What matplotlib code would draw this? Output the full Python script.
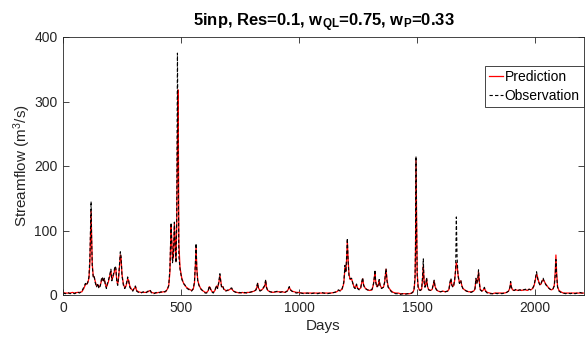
import matplotlib
matplotlib.use("Agg")
import matplotlib.pyplot as plt

plt.rcParams['font.family'] = ['Liberation Sans', 'DejaVu Sans']
plt.rcParams['mathtext.fontset'] = 'custom'
plt.rcParams['mathtext.rm'] = 'Liberation Sans'
plt.rcParams['mathtext.it'] = 'Liberation Sans'
plt.rcParams['mathtext.bf'] = 'Liberation Sans:bold'

days = [
    0, 10, 20, 30, 40, 50, 60, 70, 80, 88,
    95, 100, 105, 110, 114, 117, 119, 121, 124, 128,
    132, 136, 142, 148, 152, 158, 163, 167, 171, 175,
    180, 184, 188, 192, 196, 200, 203, 207, 212, 217,
    220, 224, 228, 232, 236, 240, 243, 246, 250, 256,
    262, 266, 270, 274, 278, 283, 290, 296, 302, 307,
    312, 320, 330, 340, 350, 360, 369, 375, 385, 395,
    405, 415, 425, 435, 442, 448, 453, 458, 461, 464,
    468, 472, 476, 479, 482, 485, 488, 491, 496, 503,
    510, 518, 526, 535, 545, 552, 557, 561, 564, 567,
    571, 576, 582, 588, 595, 603, 609, 616, 620, 624,
    630, 637, 644, 648, 651, 655, 660, 665, 668, 672,
    677, 682, 690, 700, 708, 715, 720, 728, 738, 748,
    760, 770, 780, 790, 800, 810, 818, 822, 825, 828,
    835, 843, 850, 855, 859, 862, 868, 878, 890, 900,
    910, 920, 930, 940, 950, 955, 959, 963, 970, 980,
    990, 1000, 1010, 1020, 1035, 1050, 1065, 1080, 1095, 1105,
    1120, 1135, 1150, 1160, 1167, 1175, 1183, 1190, 1195, 1199,
    1202, 1205, 1208, 1212, 1217, 1223, 1228, 1233, 1238, 1244,
    1248, 1255, 1262, 1266, 1270, 1274, 1280, 1290, 1300, 1310,
    1316, 1320, 1322, 1325, 1330, 1335, 1340, 1344, 1350, 1358,
    1363, 1366, 1369, 1373, 1378, 1385, 1392, 1400, 1410, 1420,
    1430, 1440, 1450, 1460, 1470, 1478, 1484, 1488, 1492, 1494,
    1496, 1498, 1501, 1505, 1510, 1515, 1520, 1524, 1527, 1530,
    1534, 1538, 1541, 1545, 1550, 1558, 1565, 1570, 1573, 1577,
    1583, 1590, 1600, 1610, 1620, 1630, 1636, 1640, 1644, 1648,
    1652, 1656, 1660, 1664, 1667, 1670, 1674, 1680, 1686, 1690,
    1695, 1702, 1710, 1720, 1730, 1740, 1746, 1750, 1754, 1758,
    1761, 1764, 1768, 1775, 1782, 1786, 1790, 1798, 1810, 1820,
    1830, 1840, 1850, 1860, 1870, 1880, 1888, 1894, 1897, 1900,
    1905, 1912, 1920, 1928, 1936, 1944, 1952, 1960, 1968, 1975,
    1983, 1990, 1996, 2000, 2004, 2007, 2010, 2014, 2018, 2022,
    2026, 2030, 2035, 2040, 2046, 2052, 2058, 2064, 2070, 2076,
    2082, 2086, 2089, 2092, 2096, 2102, 2110, 2120, 2130, 2140,
    2150, 2160, 2170, 2180, 2190, 2200, 2207,
]

observation = [
    3, 2, 4, 2, 3, 2, 5, 3, 6, 12,
    18, 15, 20, 28, 60, 110, 145, 90, 45, 28,
    30, 20, 12, 18, 10, 14, 25, 28, 20, 26,
    15, 10, 18, 22, 28, 35, 40, 22, 30, 38,
    45, 42, 20, 15, 30, 50, 67, 60, 30, 15,
    10, 14, 20, 28, 22, 12, 8, 6, 12, 14,
    6, 4, 3, 5, 3, 6, 8, 3, 2, 4,
    3, 5, 4, 6, 8, 15, 40, 112, 80, 50,
    60, 113, 70, 50, 120, 375, 200, 60, 40, 25,
    18, 15, 10, 8, 6, 10, 20, 50, 80, 40,
    22, 15, 10, 8, 5, 3, 3, 8, 14, 10,
    5, 3, 8, 12, 15, 10, 20, 33, 22, 12,
    14, 8, 6, 8, 10, 11, 6, 5, 3, 4,
    3, 4, 3, 4, 5, 6, 8, 14, 19, 10,
    6, 8, 12, 15, 24, 12, 6, 5, 4, 5,
    6, 4, 5, 4, 6, 10, 13, 8, 6, 4,
    3, 4, 3, 2, 3, 2, 3, 2, 4, 3,
    2, 3, 4, 5, 8, 6, 10, 20, 46, 35,
    60, 88, 55, 30, 25, 26, 18, 12, 10, 17,
    10, 8, 12, 20, 27, 15, 10, 8, 7, 9,
    18, 30, 39, 20, 12, 15, 24, 14, 10, 12,
    20, 32, 41, 22, 12, 8, 5, 3, 2, 2,
    1, 2, 1, 2, 2, 3, 5, 10, 30, 80,
    215, 120, 30, 12, 8, 7, 10, 30, 56, 20,
    12, 18, 27, 12, 8, 7, 10, 18, 23, 12,
    8, 6, 5, 6, 5, 6, 10, 20, 26, 15,
    12, 15, 25, 40, 121, 60, 30, 18, 23, 14,
    10, 8, 6, 5, 4, 6, 10, 26, 18, 25,
    39, 20, 8, 6, 9, 12, 6, 3, 2, 2,
    3, 2, 3, 2, 3, 4, 6, 12, 21, 12,
    8, 7, 9, 7, 8, 7, 8, 9, 7, 9,
    8, 10, 15, 22, 30, 36, 28, 22, 18, 15,
    18, 22, 26, 20, 16, 13, 11, 9, 8, 9,
    14, 30, 55, 30, 12, 6, 4, 3, 2, 3,
    2, 3, 2, 3, 4, 3, 2,
]

prediction = [
    4, 3, 3, 3, 4, 3, 4, 4, 5, 10,
    16, 17, 19, 26, 50, 100, 130, 95, 48, 30,
    28, 22, 14, 16, 12, 15, 22, 26, 22, 24,
    16, 12, 16, 20, 26, 32, 37, 24, 28, 35,
    42, 40, 22, 17, 28, 46, 62, 58, 32, 17,
    11, 13, 18, 25, 23, 14, 9, 7, 10, 13,
    7, 5, 4, 4, 4, 5, 7, 4, 3, 3,
    4, 4, 5, 5, 9, 14, 35, 105, 85, 55,
    58, 110, 75, 52, 110, 240, 318, 80, 42, 27,
    19, 14, 11, 9, 7, 9, 18, 45, 75, 42,
    23, 16, 11, 8, 6, 4, 4, 7, 13, 11,
    6, 4, 7, 11, 14, 11, 18, 30, 24, 13,
    13, 9, 7, 7, 9, 10, 7, 5, 4, 3,
    4, 3, 4, 4, 5, 6, 8, 13, 18, 11,
    7, 8, 11, 14, 22, 13, 7, 5, 4, 5,
    5, 5, 5, 4, 6, 9, 12, 9, 6, 5,
    4, 4, 3, 3, 3, 3, 3, 3, 3, 3,
    3, 3, 4, 5, 7, 7, 9, 18, 42, 37,
    55, 84, 58, 32, 24, 25, 19, 13, 11, 16,
    11, 9, 11, 19, 25, 16, 11, 8, 7, 8,
    17, 28, 36, 22, 13, 14, 22, 15, 11, 12,
    19, 30, 40, 24, 13, 9, 6, 4, 3, 3,
    2, 2, 2, 2, 2, 3, 5, 9, 25, 70,
    212, 140, 35, 13, 8, 7, 9, 25, 46, 24,
    13, 17, 25, 13, 8, 7, 9, 17, 22, 13,
    8, 6, 5, 6, 5, 6, 9, 18, 24, 16,
    13, 15, 23, 38, 50, 46, 32, 19, 22, 15,
    10, 8, 6, 5, 5, 6, 9, 24, 19, 24,
    36, 22, 9, 6, 8, 11, 7, 4, 3, 2,
    3, 3, 3, 3, 3, 4, 6, 11, 19, 13,
    8, 7, 8, 7, 8, 7, 8, 8, 7, 9,
    8, 10, 14, 20, 28, 32, 30, 23, 19, 16,
    17, 21, 24, 21, 17, 14, 11, 9, 8, 9,
    15, 35, 62, 35, 13, 7, 5, 3, 3, 3,
    3, 3, 3, 3, 3, 3, 3,
]

x_ticks = [0, 500, 1000, 1500, 2000]
y_ticks = [0, 100, 200, 300, 400]
title_text = r'5inp, Res=0.1, w$_\mathbf{QL}$=0.75, w$_\mathbf{P}$=0.33'

assert len(days) == len(observation) == len(prediction)

grey = '#262626'
fig = plt.figure(figsize=(5.85, 3.39), dpi=100)
ax = fig.add_axes([63 / 585, 1 - 295 / 339, 521 / 585, 258 / 339])

ax.plot(days, prediction, color='red', lw=0.9, label='Prediction')
ax.plot(days, observation, color='black', lw=0.8, ls=(0, (3, 2)), label='Observation')

ax.set_xlim(0, 2208)
ax.set_ylim(0, 400)
ax.set_xticks(x_ticks)
ax.set_yticks(y_ticks)
ax.tick_params(direction='in', length=4, width=0.6, top=True, right=True,
               labelsize=10, colors=grey, pad=4)
for s in ax.spines.values():
    s.set_linewidth(0.6)
    s.set_color(grey)

ax.set_xlabel('Days', fontsize=11, color=grey, labelpad=3)
ax.set_ylabel('Streamflow (m$^3$/s)', fontsize=11, color=grey, labelpad=1)
ax.set_title(title_text, fontsize=12, fontweight='bold', color='black', pad=8)

leg = ax.legend(loc='upper right', bbox_to_anchor=(1.0, (295 - 66) / 258),
                borderaxespad=0, fontsize=10, handlelength=1.0, handletextpad=0.15,
                labelspacing=0.35, borderpad=0.3, fancybox=False, framealpha=1,
                edgecolor=grey)
leg.get_frame().set_linewidth(0.6)

fig.savefig('out.png', dpi=100)
